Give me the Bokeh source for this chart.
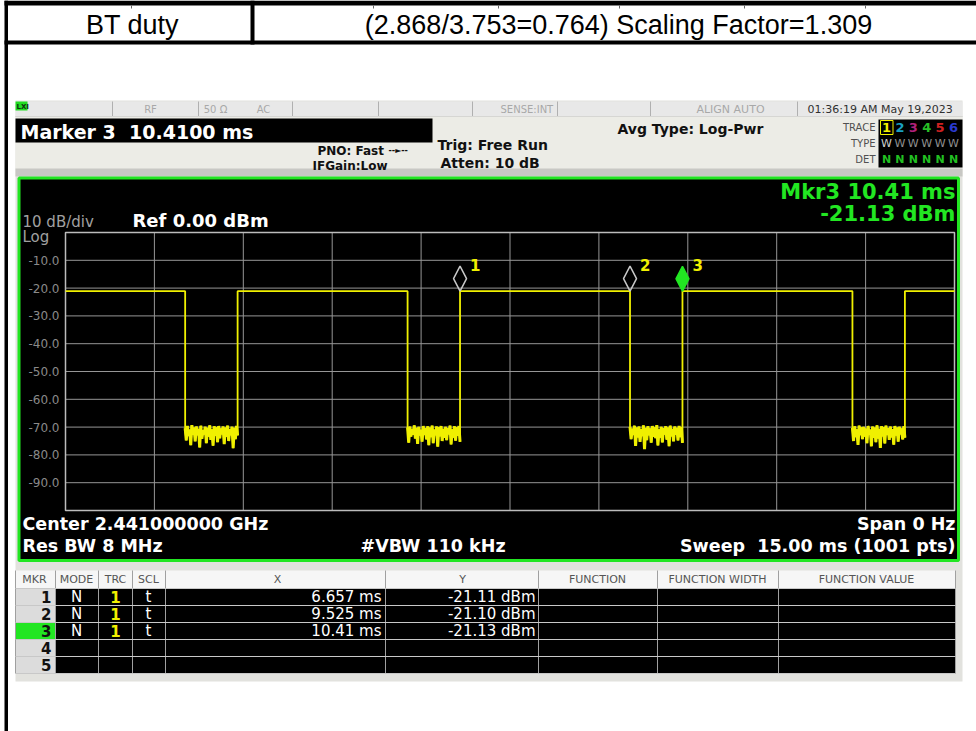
from bokeh.plotting import figure
from bokeh.models import Range1d
from bokeh.core.properties import value
from bokeh.embed import file_html
from bokeh.resources import INLINE
import numpy as np

# ---------------- data ----------------
header_cells = ["BT duty", "(2.868/3.753=0.764) Scaling Factor=1.309"]
sweep_ms = 15.0
ref_dbm = 0.0
db_per_div = 10.0
n_div = 10
high_level = -21.1
t_fall = [2.019, 5.772, 9.525, 13.278]
t_rise = [2.904, 6.657, 10.41, 14.163]
low_seg1 = [-70.4, -74.8, -69.6, -73.2, -70.9, -76.5, -69.3, -72.8, -70.2, -75.1, -69.8, -72.9,
            -70.6, -77.3, -69.5, -74.2, -71.1, -72.6, -69.9, -75.8, -70.3, -73.4, -69.4, -74.6,
            -70.8, -76.7, -69.7, -73.1, -70.1, -75.4, -69.6, -74.0, -70.5, -72.6, -69.8, -76.1,
            -70.2, -73.5, -69.5, -75.0, -70.7, -72.9, -69.9, -77.6, -70.3, -74.3, -69.6, -73.0]
low_seg2 = [-70.1, -75.6, -69.8, -73.4, -70.7, -72.7, -69.4, -74.1, -70.3, -76.0, -69.9, -73.0,
            -71.0, -75.2, -69.6, -72.8, -70.4, -74.4, -69.7, -76.5, -70.2, -73.6, -69.5, -75.8,
            -70.9, -72.9, -69.8, -77.0, -70.0, -73.3, -69.6, -75.0, -70.6, -73.9, -69.9, -74.7,
            -70.4, -72.6, -69.5, -76.2, -70.8, -73.8, -69.7, -74.9, -70.1, -73.1, -69.6, -75.3]
low_seg3 = [-69.9, -74.3, -70.6, -72.8, -69.5, -76.8, -70.2, -73.7, -69.8, -75.3, -70.7, -73.2,
            -69.4, -77.9, -70.3, -74.7, -69.7, -72.9, -70.5, -75.6, -69.6, -73.5, -70.1, -74.0,
            -69.3, -76.6, -70.8, -73.8, -69.9, -75.5, -70.4, -72.7, -69.7, -74.5, -70.2, -76.9,
            -69.5, -73.3, -70.6, -75.1, -69.8, -72.8, -70.3, -74.8, -69.6, -73.6, -70.0, -75.7]
low_seg4 = [-70.3, -75.0, -69.7, -73.6, -70.8, -76.4, -69.5, -72.9, -70.1, -74.3, -69.9, -73.4,
            -70.5, -75.8, -69.6, -72.7, -70.9, -76.9, -69.8, -73.9, -70.2, -75.4, -69.4, -74.1,
            -70.6, -77.5, -69.7, -73.3, -70.0, -75.9, -69.5, -72.8, -70.4, -74.6, -69.8, -73.7,
            -70.7, -76.3, -69.6, -73.0, -70.2, -75.2, -69.9, -72.6, -70.5, -74.4, -69.7, -73.8]
low_segments = [low_seg1, low_seg2, low_seg3, low_seg4]

y_ticks = [-10, -20, -30, -40, -50, -60, -70, -80, -90]
y_tick_labels = ["-10.0", "-20.0", "-30.0", "-40.0", "-50.0", "-60.0", "-70.0", "-80.0", "-90.0"]

marker_ids = ["1", "2", "3"]
marker_x = [6.657, 9.525, 10.41]
marker_y = [-21.11, -21.10, -21.13]

table_cols = ["MKR", "MODE", "TRC", "SCL", "X", "Y", "FUNCTION", "FUNCTION WIDTH", "FUNCTION VALUE"]
tbl_mkr = ["1", "2", "3", "4", "5"]
tbl_mode = ["N", "N", "N", "", ""]
tbl_trc = ["1", "1", "1", "", ""]
tbl_scl = ["t", "t", "t", "", ""]
tbl_x = ["6.657 ms", "9.525 ms", "10.41 ms", "", ""]
tbl_y = ["-21.11 dBm", "-21.10 dBm", "-21.13 dBm", "", ""]

# ---------------- layout ----------------
OX, OY = 0, 0
W, H = 976, 731
SANS = "Liberation Sans"
DV = "DejaVu Sans"
GREEN = "#22e622"
YEL = "#f0f000"
NB = "\u00a0"

p = figure(width=W, height=H, x_range=Range1d(0, W), y_range=Range1d(H, 0),
           output_backend="svg", toolbar_location=None, min_border=0,
           x_axis_type=None, y_axis_type=None)
p.grid.visible = False
p.outline_line_color = None
p.background_fill_color = "white"
p.border_fill_color = "white"


def box(x0, y0, x1, y1, color, line=None, lw=1.0):
    p.quad(left=[x0 - OX], right=[x1 - OX], top=[y0 - OY], bottom=[y1 - OY],
           fill_color=color, line_color=line, line_width=lw)


def seg(x0, y0, x1, y1, color, lw=1.0):
    p.segment(x0=[x0 - OX], y0=[y0 - OY], x1=[x1 - OX], y1=[y1 - OY],
              line_color=color, line_width=lw)


def txt(x, y, s, size=12, color="black", bold=False, align="left", font=DV):
    p.text(x=[x - OX], y=[y - OY], text=[s], text_font=value(font),
           text_font_size=f"{size}px", text_color=color,
           text_font_style="bold" if bold else "normal",
           text_align=align, text_baseline="middle")


# ---- document header table ----
box(4, 0, 976, 5, "black")
for tx in [131, 373, 498, 619, 744, 865]:
    seg(tx, 5, tx, 8, "#666666", 1)
box(4, 40, 976, 44, "black")
box(4, 0, 7.5, 731, "black")
box(250, 0, 254, 44, "black")
txt(132, 24, header_cells[0], 27, "black", False, "center", SANS)
txt(618, 24, header_cells[1], 27, "black", False, "center", SANS)

# ---- analyzer screenshot background ----
box(15, 100, 962, 681, "#e2e2de")
# status bar
box(15, 101, 962, 116, "#e8e8e8")
for ex in [112, 198, 292, 378, 472, 557, 650, 797]:
    seg(ex, 101, ex, 116, "#b0b0b0", 1)
seg(15, 116, 962, 116, "#c0c0c0", 1)
box(15, 101, 27, 110, "#22dd22")
txt(16, 106, "LXI", 7, "#103010", True)
txt(150, 108.5, "RF", 10, "#a8a8a8", False, "center")
txt(215, 108.5, "50 Ω", 10, "#a8a8a8", False, "center")
txt(263, 108.5, "AC", 10, "#a8a8a8", False, "center")
txt(500, 108.5, "SENSE:INT", 10, "#a8a8a8")
txt(730, 108.5, "ALIGN AUTO", 11, "#a8a8a8", False, "center")
txt(807, 108.5, "01:36:19 AM May 19,2023", 11, "#303030")
# second band
box(15, 116, 962, 176, "#ececE6")
box(15, 168, 962, 176, "#c8c8c4")
box(15, 118, 432, 142, "black")
txt(20, 131, "Marker 3" + NB + NB + "10.4100 ms", 19, "white", True)
txt(317, 150, "PNO: Fast", 12, "#111111", True)
txt(388, 150, "--►--", 8, "#111111", True)
txt(312, 165, "IFGain:Low", 12, "#111111", True)
txt(437, 144, "Trig: Free Run", 14, "#111111", True)
txt(440, 162, "Atten: 10 dB", 14, "#111111", True)
txt(617, 128, "Avg Type: Log-Pwr", 14, "#111111", True)
# trace box
box(878, 119, 962, 167, "black")
txt(875, 127, "TRACE", 10, "#505050", False, "right")
txt(875, 143, "TYPE", 10, "#505050", False, "right")
txt(875, 159, "DET", 10, "#505050", False, "right")
trace_cols = [YEL, "#1aa0c0", "#b0207a", "#28c028", "#d02020", "#2a3ad0"]
for i, c in enumerate(trace_cols):
    xc = 886 + 13.4 * i
    txt(xc, 127, str(i + 1), 13, c, True, "center")
    txt(xc, 143, "W", 11, "#d0d0d0" if i == 0 else "#909090", False, "center")
    txt(xc, 159, "N", 11, "#22c022", True, "center")
p.quad(left=[880 - OX], right=[892.5 - OX], top=[120 - OY], bottom=[134 - OY],
       fill_color=None, line_color=YEL, line_width=1)

# ---- main display ----
box(18.5, 177.5, 958, 560, "black", GREEN, 3)

GX0, GX1 = 65 - OX, 954 - OX
GY0, GY1 = 232 - OY, 510 - OY
ms_per_px = sweep_ms / (GX1 - GX0)
db_span = db_per_div * n_div
db_per_px = db_span / (GY1 - GY0)
p.extra_x_ranges = {"ms": Range1d(start=-GX0 * ms_per_px, end=(W - GX0) * ms_per_px)}
p.extra_y_ranges = {"db": Range1d(start=ref_dbm - (H - GY0) * db_per_px,
                                  end=ref_dbm + GY0 * db_per_px)}

# graticule
xg = [i * sweep_ms / n_div for i in range(n_div + 1)]
yg = [ref_dbm - j * db_per_div for j in range(n_div + 1)]
p.segment(x0=xg[1:-1], y0=[ref_dbm] * (n_div - 1), x1=xg[1:-1], y1=[ref_dbm - db_span] * (n_div - 1),
          x_range_name="ms", y_range_name="db", line_color="#969696", line_width=1)
p.segment(x0=[0] * (n_div - 1), y0=yg[1:-1], x1=[sweep_ms] * (n_div - 1), y1=yg[1:-1],
          x_range_name="ms", y_range_name="db", line_color="#969696", line_width=1)
p.quad(left=[0], right=[sweep_ms], top=[ref_dbm], bottom=[ref_dbm - db_span],
       x_range_name="ms", y_range_name="db", fill_color=None, line_color="#bcbcbc", line_width=1.5)

# y tick labels
p.text(x=[59 - OX] * len(y_ticks), y=y_ticks, text=y_tick_labels, y_range_name="db",
       text_font=value(DV), text_font_size="12px", text_color="#8a8a8a",
       text_align="right", text_baseline="middle")

txt(22, 221, "10 dB/div", 15, "#a0a0a0")
txt(22, 236, "Log", 15, "#a0a0a0")
txt(132, 220, "Ref 0.00 dBm", 18, "white", True)
txt(955, 191, "Mkr3 10.41 ms", 21, GREEN, True, "right")
txt(955, 213, "-21.13 dBm", 21, GREEN, True, "right")

# trace
tx_all, ty_all = [0.0], [high_level]
low_x, low_y = [], []
for f, r, lowv in zip(t_fall, t_rise, low_segments):
    tx_all.append(f)
    ty_all.append(high_level)
    xs = np.linspace(f, r, len(lowv)).tolist()
    tx_all.extend(xs)
    ty_all.extend(lowv)
    low_x.append(xs)
    low_y.append(lowv)
    tx_all.append(r)
    ty_all.append(high_level)
tx_all.append(sweep_ms)
ty_all.append(high_level)
p.line(tx_all, ty_all, x_range_name="ms", y_range_name="db", line_color=YEL, line_width=1.8)
p.multi_line(low_x, low_y, x_range_name="ms", y_range_name="db", line_color=YEL, line_width=3)

# markers
hw = 6.5 * ms_per_px
hh = 25 * db_per_px
dx = [[mx, mx + hw, mx, mx - hw] for mx in marker_x]
dy = [[my, my + hh / 2, my + hh, my + hh / 2] for my in marker_y]
p.patches(dx[:2], dy[:2], x_range_name="ms", y_range_name="db",
          fill_color=None, line_color="#c8c8c8", line_width=1.5)
p.patches(dx[2:], dy[2:], x_range_name="ms", y_range_name="db",
          fill_color=GREEN, line_color=GREEN, line_width=1.5)
p.text(x=marker_x, y=marker_y, text=marker_ids, x_range_name="ms", y_range_name="db",
       x_offset=10, y_offset=-26, text_font=value(DV), text_font_size="15px",
       text_font_style="bold", text_color=YEL, text_align="left", text_baseline="middle")

txt(22, 523, "Center 2.441000000 GHz", 17.5, "white", True)
txt(22, 545, "Res BW 8 MHz", 17.5, "white", True)
txt(360, 545, "#VBW 110 kHz", 17.5, "white", True)
txt(955, 523, "Span 0 Hz", 17.5, "white", True, "right")
txt(955, 545, "Sweep" + NB + NB + "15.00 ms (1001 pts)", 17.5, "white", True, "right")

# ---- marker table ----
col_edges = [15, 55, 98, 132, 165, 385, 538, 657, 778, 955]
row_edges = [588, 605, 622, 639, 656, 673]
box(15, 570, 955, 588, "#f6f6f6")
box(15, 588, 55, 673, "#dcdcdc")
box(15, 622, 55, 639, "#22e622")
box(55, 588, 955, 673, "black")
for ce in col_edges:
    seg(ce, 570, ce, 673, "#a0a0a0", 1)
for re_ in row_edges[:-1]:
    seg(15, re_, 955, re_, "#c8c8c8", 1)
seg(15, 673, 955, 673, "#c8c8c8", 1)
hdr_x = [34, 76, 115, 148, 277, 462, 597, 717, 866]
for hx, name in zip(hdr_x, table_cols):
    txt(hx, 579, name, 11, "#555555", False, "center")
for i in range(5):
    yc = (row_edges[i] + row_edges[i + 1]) / 2
    txt(51, yc, tbl_mkr[i], 15, "#111111", True, "right")
    if tbl_mode[i]:
        txt(76, yc, tbl_mode[i], 15, "white", False, "center")
        txt(115, yc, tbl_trc[i], 15, YEL, True, "center")
        txt(148, yc, tbl_scl[i], 15, "white", False, "center")
        txt(381, yc, tbl_x[i], 15, "white", False, "right")
        txt(535, yc, tbl_y[i], 15, "white", False, "right")

open("out.html", "w").write(file_html(p, INLINE))
